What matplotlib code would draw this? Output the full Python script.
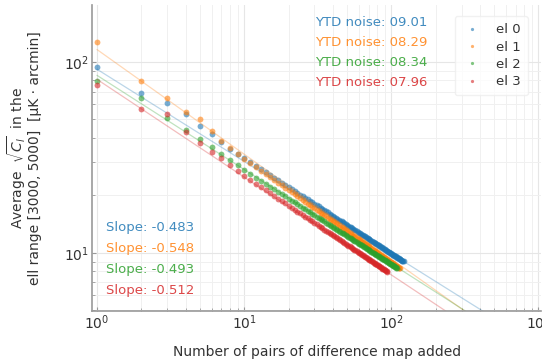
import numpy as np
import matplotlib
matplotlib.use("Agg")
import matplotlib.pyplot as plt

# sqrt(C_l) averaged over ell 3000-5000, one value per number of map pairs added
el0 = [93.8, 68.6, 61.2, 53.2, 46.4, 41.8, 38.3, 35.1, 32.8, 31.3,
       29.85, 28.58, 27.46, 26.46, 25.56, 24.75, 24.01, 23.33, 22.71, 22.14,
       21.60, 21.11, 20.64, 20.21, 19.80, 19.42, 19.05, 18.71, 18.38, 18.07,
       17.78, 17.50, 17.23, 16.98, 16.73, 16.50, 16.28, 16.06, 15.85, 15.65,
       15.46, 15.28, 15.10, 14.92, 14.76, 14.60, 14.44, 14.29, 14.14, 14.00,
       13.86, 13.73, 13.60, 13.47, 13.35, 13.23, 13.11, 13.00, 12.89, 12.78,
       12.68, 12.57, 12.47, 12.38, 12.28, 12.19, 12.09, 12.01, 11.92, 11.83,
       11.75, 11.67, 11.59, 11.51, 11.43, 11.36, 11.28, 11.21, 11.14, 11.07,
       11.00, 10.93, 10.87, 10.80, 10.74, 10.68, 10.61, 10.55, 10.49, 10.44,
       10.38, 10.32, 10.27, 10.21, 10.16, 10.10, 10.05, 10.00, 9.95, 9.90,
       9.85, 9.80, 9.75, 9.71, 9.66, 9.62, 9.57, 9.53, 9.48, 9.44,
       9.40, 9.35, 9.31, 9.27, 9.23, 9.19, 9.15, 9.11, 9.08, 9.04, 9.01]
el1 = [126.8, 79.4, 64.8, 54.9, 50.1, 43.5, 38.6, 35.3, 33.0, 31.1,
       29.54, 28.18, 26.98, 25.92, 24.96, 24.10, 23.32, 22.60, 21.95, 21.35,
       20.79, 20.28, 19.79, 19.34, 18.91, 18.52, 18.13, 17.78, 17.44, 17.12,
       16.83, 16.54, 16.26, 16.00, 15.75, 15.51, 15.29, 15.07, 14.85, 14.65,
       14.46, 14.27, 14.09, 13.91, 13.74, 13.58, 13.42, 13.27, 13.12, 12.98,
       12.84, 12.71, 12.57, 12.45, 12.32, 12.20, 12.08, 11.97, 11.86, 11.75,
       11.65, 11.54, 11.44, 11.35, 11.25, 11.16, 11.07, 10.98, 10.90, 10.81,
       10.73, 10.65, 10.57, 10.49, 10.41, 10.34, 10.26, 10.19, 10.12, 10.05,
       9.99, 9.92, 9.86, 9.79, 9.73, 9.67, 9.60, 9.54, 9.48, 9.43,
       9.38, 9.32, 9.27, 9.21, 9.16, 9.10, 9.05, 9.00, 8.95, 8.91,
       8.86, 8.81, 8.76, 8.72, 8.67, 8.63, 8.58, 8.54, 8.50, 8.46,
       8.42, 8.37, 8.33, 8.29]
el2 = [79.8, 64.6, 51.1, 44.1, 39.4, 35.7, 33.0, 30.7, 28.7, 27.1,
       25.85, 24.76, 23.81, 22.95, 22.18, 21.49, 20.85, 20.27, 19.74, 19.25,
       18.79, 18.37, 17.96, 17.59, 17.24, 16.91, 16.60, 16.30, 16.02, 15.75,
       15.50, 15.26, 15.03, 14.82, 14.60, 14.40, 14.21, 14.02, 13.84, 13.67,
       13.51, 13.35, 13.20, 13.04, 12.90, 12.76, 12.63, 12.50, 12.37, 12.25,
       12.12, 12.01, 11.90, 11.79, 11.69, 11.58, 11.48, 11.38, 11.29, 11.19,
       11.11, 11.01, 10.93, 10.85, 10.76, 10.68, 10.60, 10.53, 10.45, 10.37,
       10.30, 10.23, 10.16, 10.09, 10.03, 9.96, 9.90, 9.83, 9.77, 9.71,
       9.65, 9.59, 9.54, 9.48, 9.43, 9.38, 9.31, 9.26, 9.21, 9.17,
       9.12, 9.06, 9.02, 8.97, 8.92, 8.87, 8.83, 8.79, 8.74, 8.70,
       8.66, 8.61, 8.57, 8.54, 8.49, 8.46, 8.41, 8.38, 8.34]
el3 = [75.5, 56.7, 53.2, 43.2, 37.8, 33.8, 31.4, 28.9, 27.0, 25.3,
       24.09, 23.03, 22.10, 21.27, 20.52, 19.85, 19.24, 18.68, 18.17, 17.70,
       17.25, 16.85, 16.46, 16.11, 15.77, 15.46, 15.15, 14.87, 14.60, 14.35,
       14.11, 13.88, 13.66, 13.46, 13.25, 13.06, 12.89, 12.70, 12.53, 12.37,
       12.22, 12.07, 11.92, 11.78, 11.65, 11.51, 11.39, 11.26, 11.14, 11.03,
       10.91, 10.81, 10.70, 10.60, 10.50, 10.40, 10.30, 10.22, 10.13, 10.04,
       9.96, 9.87, 9.79, 9.71, 9.63, 9.56, 9.48, 9.41, 9.34, 9.27,
       9.20, 9.14, 9.07, 9.01, 8.94, 8.89, 8.82, 8.77, 8.71, 8.65,
       8.60, 8.54, 8.49, 8.43, 8.39, 8.34, 8.28, 8.23, 8.19, 8.15,
       8.10, 8.05, 8.01, 7.96]

series = [el0, el1, el2, el3]
labels = ['el 0', 'el 1', 'el 2', 'el 3']
colors = ['tab:blue', 'tab:orange', 'tab:green', 'tab:red']
slopes = [-0.483, -0.548, -0.493, -0.512]
fit_amp = [91.5, 116.0, 85.0, 81.0]
ytd_noise = ['09.01', '08.29', '08.34', '07.96']

fig = plt.figure(figsize=(5.42, 3.61), dpi=100)
ax = fig.add_axes([0.170, 0.139, 0.829, 0.847])

xfit = np.logspace(0, 3, 200)
for vals, lab, col, s, a in zip(series, labels, colors, slopes, fit_amp):
    x = np.arange(1, len(vals) + 1)
    ax.plot(x, vals, 'o', ms=4.2, color=col, alpha=0.6, mec='none', label=lab)
    ax.plot(xfit, a * xfit ** s, '-', lw=0.9, color=col, alpha=0.3)

ax.set_xscale('log')
ax.set_yscale('log')
ax.set_xlim(0.925, 1048)
ax.set_ylim(4.97, 198.6)

ax.grid(True, which='major', color='#e6e6e6', lw=0.8)
ax.grid(True, which='minor', color='#f0f0f0', lw=0.7)
ax.set_axisbelow(True)
for side in ['top', 'right']:
    ax.spines[side].set_visible(False)
for side in ['left', 'bottom']:
    ax.spines[side].set_color('#999999')
    ax.spines[side].set_linewidth(1.2)
ax.tick_params(which='both', direction='in', colors='#999999', labelcolor='#333333',
               labelsize=10, pad=2)
ax.tick_params(which='major', length=3)
ax.tick_params(which='minor', length=2)

ax.set_xlabel('Number of pairs of difference map added', fontsize=10, color='#333333',
              labelpad=9)
ax.set_ylabel('Average  $\\sqrt{C_l}$  in the\nell range [3000, 5000]  [μK · arcmin]',
              fontsize=10, color='#333333', linespacing=0.95)
ax.yaxis.set_label_coords(-0.112, 0.5)

for i, (col, n) in enumerate(zip(colors, ytd_noise)):
    ax.text(0.495, 0.944 - i * 0.066, 'YTD noise: ' + n, color=col, alpha=0.85,
            fontsize=9.5, transform=ax.transAxes, va='center', ha='left')
for i, (col, s) in enumerate(zip(colors, slopes)):
    ax.text(0.03, 0.271 - i * 0.068, 'Slope: %.3f' % s, color=col, alpha=0.85,
            fontsize=9.5, transform=ax.transAxes, va='center', ha='left')

leg = ax.legend(loc='upper right', bbox_to_anchor=(0.985, 0.985), fontsize=9.5,
                markerscale=0.55, frameon=True, handlelength=1.6, handletextpad=1.0,
                labelspacing=0.32, borderpad=0.55)
leg.get_frame().set_edgecolor('#eeeeee')
for t in leg.get_texts():
    t.set_color('#333333')

fig.savefig('out.png', dpi=100)
